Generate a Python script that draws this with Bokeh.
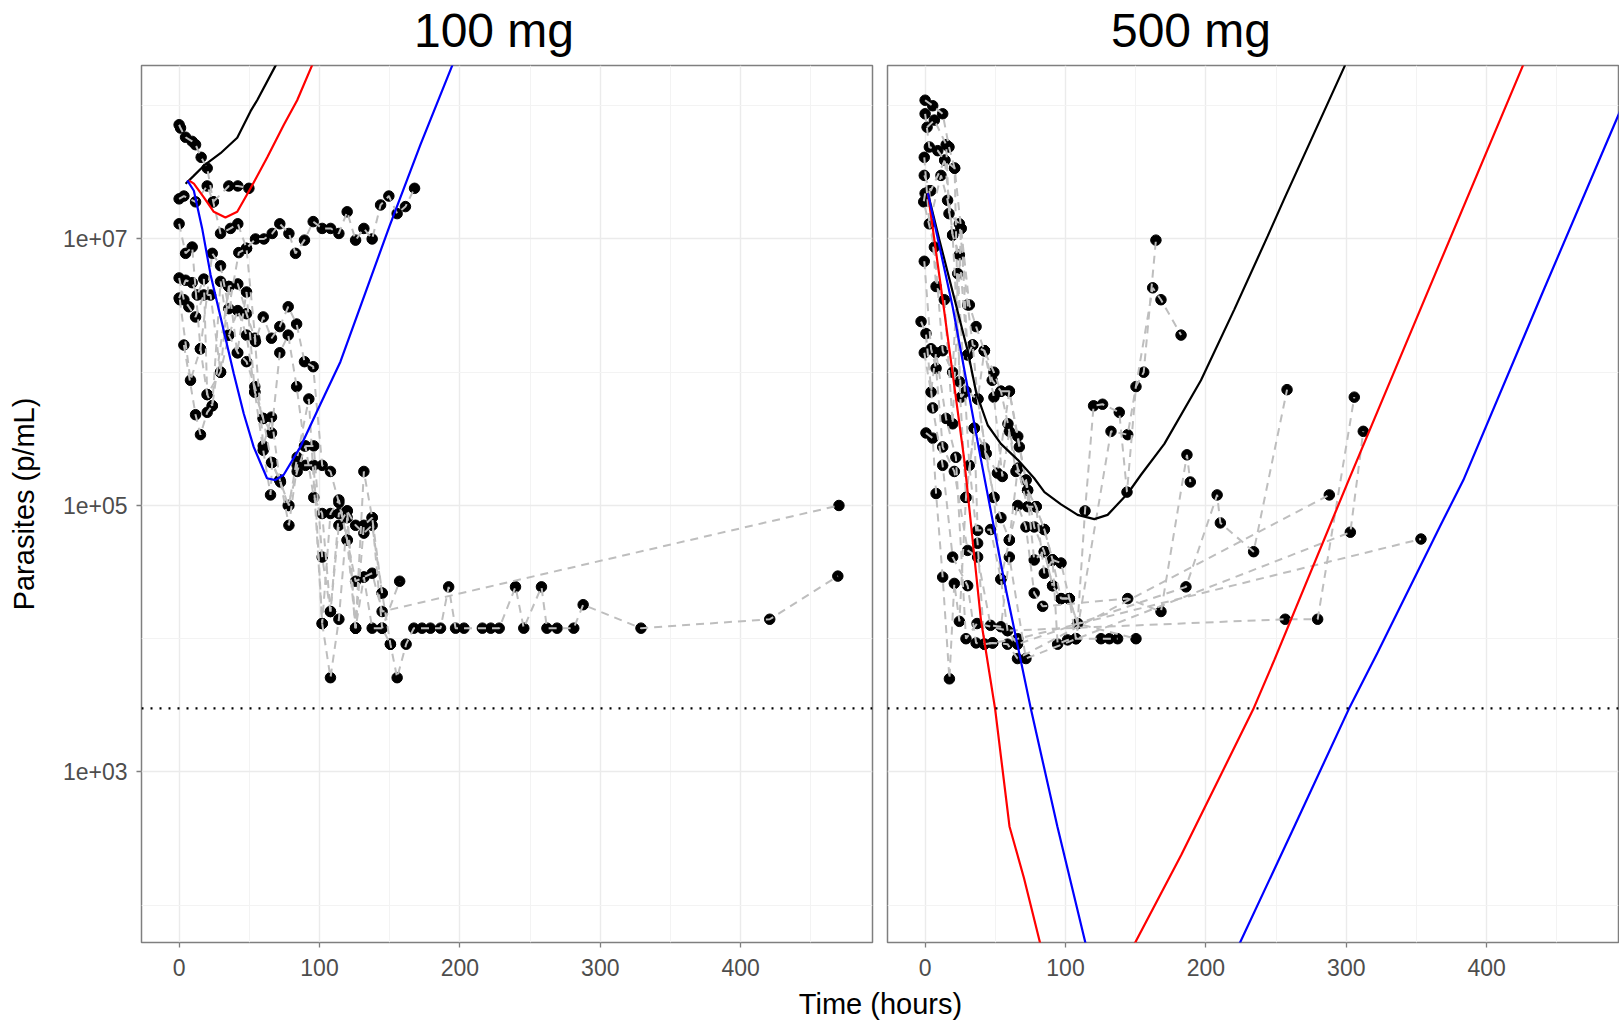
from bokeh.plotting import figure
from bokeh.models import Range1d, FixedTicker, Span, Label
from bokeh.layouts import row, column
from bokeh.embed import file_html
from bokeh.resources import INLINE

# ---------------- data ----------------
panel_titles = ["100 mg", "500 mg"]
x_ticks = [0, 100, 200, 300, 400]
x_minor = [50, 150, 250, 350, 450]
y_ticks = [1e3, 1e5, 1e7]
y_minor = [1e2, 1e4, 1e6, 1e8]
y_tick_labels = ["1e+03", "1e+05", "1e+07"]
lloq = 3000

# 100 mg observed (hours, parasites/mL), one pair per subject
a1_t = [0, 1, 4.6, 9.3, 11.7, 15.7, 20, 24.3, 29.5, 36.6, 41.8, 48, 54.4, 60.4, 66.3, 71.7, 78.2, 82.9, 89.3, 95.5, 101.9, 107.9, 113.8, 119.7, 125.7, 131.6, 137.5, 143.5, 149.4, 155.3, 161.2, 167.7]
a1_p = [7.2e7, 6.8e7, 5.8e7, 5.4e7, 5.1e7, 4.1e7, 3.4e7, 1.9e7, 1.1e7, 1.2e7, 1.3e7, 8.5e6, 1.0e7, 1.0e7, 1.1e7, 1.3e7, 1.1e7, 7.8e6, 9.8e6, 1.35e7, 1.2e7, 1.2e7, 1.1e7, 1.6e7, 9.8e6, 1.2e7, 1.0e7, 1.8e7, 2.1e7, 1.55e7, 1.75e7, 2.4e7]
a2_t = [0, 3.4, 11.7, 20, 24.3, 35.4, 41.8, 49.7]
a2_p = [2.0e7, 2.1e7, 1.9e7, 2.5e7, 1.9e7, 2.5e7, 2.5e7, 2.4e7]
a3_t = [0, 4.6, 9.3, 15.2, 23.6, 29.5, 35.4, 42.5, 48, 54.4, 59.9, 65.8, 71.7, 77.7, 83.7, 89.3, 95.5, 101.9, 107.8, 113.8, 119.7, 125.7, 131.6, 137.5, 144.6, 470]
a3_p = [1.3e7, 7.8e6, 8.7e6, 1.5e6, 7.8e6, 6.3e6, 3.0e6, 7.9e6, 8.5e6, 1.7e6, 2.6e6, 1.8e6, 2.2e6, 3.1e6, 2.3e6, 1.2e6, 1.1e6, 2.0e5, 1.8e5, 1.05e5, 5.5e4, 2.7e4, 2.9e4, 3.1e4, 1.6e4, 1.0e5]
a4_t = [0, 3.4, 6.9, 11.7, 17.6, 22.4, 29.5, 35.4, 41.4, 48, 53.9, 59.9, 65.8, 71.7, 77.7, 84.1, 90, 95.9, 101.9, 107.8, 113.8, 119.7, 125.7, 131.6, 137.5, 144.6, 150.5, 155.3, 161.7, 167.2, 173, 179, 186.2, 192, 196.9, 202.9, 216, 222, 228, 239.6, 245.5, 258.1, 262, 269.2, 281.1, 287.8, 329, 420.7, 469.2]
a4_p = [5.1e6, 3.5e6, 3.1e6, 2.6e6, 3.8e6, 3.8e6, 1.0e6, 4.4e6, 1.4e6, 4.0e6, 7.1e5, 4.5e5, 2.1e5, 1.55e5, 1.0e5, 1.8e5, 2.8e5, 1.15e5, 8.7e4, 1.6e4, 8.7e4, 9.1e4, 7.1e4, 6.2e4, 7.1e4, 2.2e4, 9.1e3, 5.1e3, 9.1e3, 1.2e4, 1.2e4, 1.2e4, 1.2e4, 2.45e4, 1.2e4, 1.2e4, 1.2e4, 1.2e4, 1.2e4, 2.45e4, 1.2e4, 2.45e4, 1.2e4, 1.2e4, 1.2e4, 1.8e4, 1.2e4, 1.4e4, 2.95e4]
a5_t = [0, 4.6, 9.3, 12.9, 17.6, 20, 23.6, 29.5, 35.4, 41.8, 48, 53.9, 59.9, 65.1, 66.3, 72.2, 78.2, 84.1, 90, 95.9, 101.9, 107.8, 113.8, 119.7, 125.7, 131.6, 137.5, 144.6, 157.1]
a5_p = [3.6e6, 4.9e6, 4.7e6, 3.8e6, 5.0e6, 6.8e5, 5.6e5, 4.8e6, 1.9e6, 2.9e6, 1.9e6, 7.1e5, 2.6e5, 1.2e5, 2.1e5, 1.5e5, 7.1e4, 2.0e5, 2.0e5, 2.0e5, 1.3e4, 5.1e3, 1.4e4, 8.1e4, 1.2e4, 7.1e4, 8.1e4, 1.2e4, 2.7e4]
a6_t = [0.5, 8.1, 15.2, 20, 29.5, 35.4, 41.8, 48, 53.9, 59.9, 65.8, 71.7, 77.7, 83.7, 89.3, 95.9, 101.9, 107.8, 113.8, 119.7, 125.7, 131.6, 137.5, 144.6]
a6_p = [3.5e6, 8.7e5, 1.5e6, 6.8e5, 1.0e6, 1.9e6, 1.4e6, 1.2e6, 7.8e5, 4.5e5, 3.5e5, 1.4e6, 1.9e6, 7.8e5, 2.8e5, 2.8e5, 4.1e4, 1.6e4, 7.1e4, 9.1e4, 1.2e4, 1.8e5, 8.1e4, 2.2e4]
a7_t = [3.4, 11.7, 15.2, 20, 23.6, 35.4, 41.8, 48, 53.9, 59.9, 65.8, 71.7, 78.2, 84.1, 92.4, 101.9, 107.8, 113.8, 119.7, 125.7, 131.6, 137.5, 144.6, 150.5]
a7_p = [1.6e6, 4.8e5, 3.4e5, 5.0e5, 5.6e5, 4.4e6, 4.6e6, 2.75e6, 1.8e6, 2.8e5, 4.6e5, 1.55e5, 1.0e5, 2.3e5, 6.3e5, 1.3e4, 8.7e4, 1.1e5, 5.5e4, 1.2e4, 2.9e4, 1.2e4, 1.2e4, 9.1e3]

# 500 mg observed
b1_t = [0, 5.4, 12.5, 17, 21, 25.6, 31.5, 36.3, 42.2, 49, 54, 60, 66, 73, 79, 84.9, 90.8, 96.8, 102.7, 108.6, 113.9, 120, 126.4, 138.3, 143.8, 150.2, 155.7, 164.4]
b1_p = [1.1e8, 1.0e8, 8.7e7, 4.9e7, 3.4e7, 1.2e7, 3.2e6, 2.2e6, 1.45e6, 1.0e6, 7.2e5, 7.2e5, 3.3e5, 1.3e5, 9.8e4, 6.6e4, 3.9e4, 3.7e4, 2.0e4, 1.3e4, 9.1e4, 5.6e5, 5.75e5, 5.0e5, 1.26e5, 7.8e5, 1.0e6, 9.8e6]
b2_t = [0, 3, 9, 14, 19.6, 24.4, 30.3, 33.9, 37.5, 42.2, 47.8, 54, 59, 64.7, 71.9, 77.7, 84.9, 90.8, 96.8, 102.7, 107.4, 132.4, 144.3, 162.1, 168, 182.3]
b2_p = [8.7e7, 4.9e7, 4.6e7, 3.9e7, 1.07e7, 7.6e6, 1.35e6, 1.6e6, 6.3e5, 1.45e6, 8.7e5, 7.2e5, 4.1e5, 1.8e5, 1.55e5, 6.9e4, 4.5e4, 2.5e4, 2.0e4, 2.0e4, 1.0e4, 3.6e5, 3.4e5, 4.3e6, 3.5e6, 1.9e6]
b3_t = [1.4, 6.6, 15, 17, 24.4, 30.3, 33.9, 42.2, 49, 55, 60, 66, 73, 79, 84.9, 90.8, 94.4, 101.5, 107.4, 125.3, 131.2, 137.1]
b3_p = [6.9e7, 7.8e7, 5.1e7, 1.55e7, 1.3e7, 3.2e6, 1.6e6, 1.45e6, 6.5e5, 1.65e5, 3.6e5, 1.9e5, 9.8e4, 9.8e4, 3.1e4, 3.9e4, 9.1e3, 9.8e3, 1.0e4, 1.0e4, 1.0e4, 1.0e4]
b4_t = [-0.6, 3, 11.3, 16, 19.6, 25.6, 29.1, 37.5, 43.4, 49, 54, 60, 66, 71.8, 77.7, 83.7, 144.3, 168, 186.5, 188.9]
b4_p = [4.1e7, 1.3e7, 3.0e7, 1.95e7, 1.07e7, 6.5e5, 7.2e5, 6.3e5, 2.45e5, 1.15e5, 8.1e4, 5.5e4, 1.0e5, 6.9e4, 2.2e4, 1.75e4, 2.0e4, 1.6e4, 2.4e5, 1.5e5]
b5_t = [-0.6, 4, 14, 21, 24.4, 29.1, 35, 37.4, 46.6, 54, 58.7, 65.8, 185.8, 208, 210.3, 234, 257.8]
b5_p = [3.0e7, 2.3e7, 3.9e7, 3.4e7, 8.5e5, 1.15e5, 3.8e5, 6.5e4, 6.6e4, 2.8e4, 1.15e4, 9.1e3, 2.45e4, 1.2e5, 7.4e4, 4.5e4, 7.4e5]
b6_t = [0, -1, 6.6, 12.5, 19.6, 23.2, 31.5, 37.4, 42.2, 48.1, 58.7, 65.8, 287.9]
b6_p = [2.2e7, 1.9e7, 8.7e6, 1.45e6, 1.0e6, 5.5e6, 2.0e5, 5.2e4, 9.1e3, 9.3e3, 9.1e3, 7.1e3, 1.2e5]
b7_t = [-0.6, 4.2, 7.8, 12.5, 20.8, 30.3, 37.4, 46.6, 54, 60, 71.8, 302.9, 312.1]
b7_p = [6.8e6, 1.5e6, 1.07e6, 2.75e5, 1.8e5, 4.6e4, 4.1e4, 1.26e4, 1.23e4, 4.1e4, 7.1e3, 6.3e4, 3.6e5]
b8_t = [-2.9, 0.6, 5.4, 12.5, 19.6, 30.3, 36.3, 42.2, 48.1, 66, 353.2]
b8_p = [2.4e6, 1.95e6, 5.4e5, 2.0e5, 4.1e4, 2.5e4, 9.3e3, 9.1e3, 9.3e3, 1.0e4, 5.6e4]
b9_t = [-0.6, 4.2, 7.8, 14.9, 21.9, 29.1, 37, 58.7, 256.5, 279.6, 305.7]
b9_p = [1.4e6, 7.1e5, 1.4e6, 4.5e5, 2.3e5, 1.0e4, 1.3e4, 1.15e4, 1.4e4, 1.4e4, 6.5e5]
b10_t = [0.6, 5.4, 7.8, 12.5, 17.3, 20.8, 24.4, 29.1, 35, 42.2, 49, 54, 60, 66, 73, 79, 84.9, 90.8, 96.8, 102.7, 108.6, 150.2]
b10_p = [3.5e5, 3.2e5, 1.23e5, 2.9e4, 5.0e3, 2.6e4, 1.35e4, 1.15e5, 3.8e5, 2.7e5, 1.15e5, 2.8e4, 5.5e4, 1.9e5, 1.3e5, 9.8e4, 6.6e4, 3.9e4, 2.0e4, 2.0e4, 1.3e4, 1.0e4]
b11_t = [3, 7.8, 13.7, 19.6, 25.6, 30.3, 37.5, 43.4, 51.5, 60, 67.1, 71.8, 77.7, 84.9, 90.8]
b11_p = [2.3e7, 4.4e6, 3.5e6, 4.1e5, 1.2e7, 1.35e6, 6.3e5, 2.45e5, 1.75e5, 7.2e5, 2.75e5, 1.55e5, 3.9e4, 4.5e4, 2.5e4]

# model predictions (hours, parasites/mL)
m100_black_t = [4.6, 10, 17.6, 29.5, 41.4, 50.9, 55.6, 68.7, 80]
m100_black_p = [2.6e7, 2.95e7, 3.55e7, 4.4e7, 5.75e7, 9.1e7, 1.1e8, 2.0e8, 3.4e8]
m100_red_t = [6.9, 10.5, 17.6, 24.7, 33, 41.4, 50.9, 62.8, 74.6, 84.1, 94.6, 105]
m100_red_p = [2.75e7, 2.6e7, 2.05e7, 1.6e7, 1.45e7, 1.6e7, 2.4e7, 4.1e7, 7.2e7, 1.1e8, 2.0e8, 3.5e8]
m100_blue_t = [5.8, 10.5, 16.4, 22.4, 31.8, 38.9, 46, 53.1, 62.6, 68.5, 74.5, 86.4, 100.6, 114.9, 130, 150, 171.9, 194.5, 210]
m100_blue_p = [2.75e7, 2.3e7, 1.2e7, 5.4e6, 2.05e6, 9.8e5, 4.9e5, 2.75e5, 1.6e5, 1.55e5, 1.7e5, 2.75e5, 5.75e5, 1.2e6, 3.3e6, 1.26e7, 5.1e7, 2.0e8, 5.2e8]
m500_black_t = [2, 10, 22, 30.3, 36.3, 44.6, 54, 66, 77.7, 85, 96.8, 108.6, 120.5, 130, 144.3, 153.8, 170.4, 196.5, 220.2, 244, 255.8, 299, 310]
m500_black_p = [2.2e7, 1.0e7, 3.2e6, 1.45e6, 7.1e5, 4.0e5, 2.9e5, 2.2e5, 1.6e5, 1.26e5, 1.02e5, 8.5e4, 7.9e4, 8.5e4, 1.23e5, 1.7e5, 2.9e5, 8.7e5, 2.95e6, 1.05e7, 2.0e7, 2.0e8, 3.5e8]
m500_red_t = [2, 12.5, 27.9, 39.7, 49.9, 60.1, 70.4, 82.3, 95, 115, 140, 148.6, 182.6, 233.7, 248.7, 301.7, 367.4, 425.8, 440]
m500_red_p = [2.2e7, 3.5e6, 2.2e5, 1.4e4, 2.95e3, 3.9e2, 1.6e2, 50, 16, 8, 35, 50, 240, 2.95e3, 6.9e3, 1.55e5, 6.9e6, 2.0e8, 4.5e8]
m500_blue_t = [2, 19.6, 39.8, 57, 75.4, 94.2, 114.6, 125, 170, 215, 223.4, 262, 301.7, 322.4, 367.4, 383.4, 440, 495, 505]
m500_blue_p = [2.2e7, 3.1e6, 2.2e5, 2.5e4, 2.95e3, 3.9e2, 50, 20, 8, 32, 50, 3.7e2, 2.95e3, 7.9e3, 7.2e4, 1.55e5, 4.0e6, 9.1e7, 1.6e8]

subjects_100 = [(a1_t, a1_p), (a2_t, a2_p), (a3_t, a3_p), (a4_t, a4_p), (a5_t, a5_p), (a6_t, a6_p), (a7_t, a7_p)]
subjects_500 = [(b1_t, b1_p), (b2_t, b2_p), (b3_t, b3_p), (b4_t, b4_p), (b5_t, b5_p), (b6_t, b6_p),
                (b7_t, b7_p), (b8_t, b8_p), (b9_t, b9_p), (b10_t, b10_p), (b11_t, b11_p)]
curves_100 = [(m100_black_t, m100_black_p, "black"), (m100_red_t, m100_red_p, "#FF0000"), (m100_blue_t, m100_blue_p, "#0000FF")]
curves_500 = [(m500_black_t, m500_black_p, "black"), (m500_red_t, m500_red_p, "#FF0000"), (m500_blue_t, m500_blue_p, "#0000FF")]

# ---------------- styling ----------------
FONT = "Liberation Sans"
X_RANGE = (-26.8, 493.9)
Y_RANGE = (52.5, 2.004e8)
FRAME_W, FRAME_H = 731, 877
BORDER = "#7F7F7F"
TOP_STRIP_H = 63
LEFT_BORDER = 141


def make_panel(subjects, curves, left, right, show_y):
    p = figure(output_backend="svg", toolbar_location=None, y_axis_type="log",
               x_range=Range1d(*X_RANGE), y_range=Range1d(*Y_RANGE),
               frame_width=FRAME_W, frame_height=FRAME_H,
               min_border_left=left, min_border_right=right,
               min_border_top=2, min_border_bottom=44)
    p.background_fill_color = "white"
    p.border_fill_color = "white"
    p.outline_line_color = BORDER
    p.outline_line_width = 1.5

    xt = FixedTicker(ticks=x_ticks, minor_ticks=x_minor)
    yt = FixedTicker(ticks=y_ticks, minor_ticks=y_minor)
    p.xaxis.ticker = xt
    p.yaxis.ticker = yt
    p.xgrid.ticker = xt
    p.ygrid.ticker = yt
    for g in (p.xgrid, p.ygrid):
        g.grid_line_color = "#EBEBEB"
        g.grid_line_width = 1.4
        g.minor_grid_line_color = "#F3F3F3"
        g.minor_grid_line_width = 1.0

    for ax in (p.xaxis, p.yaxis):
        ax.axis_line_color = None
        ax.major_tick_line_color = "#7F7F7F"
        ax.major_tick_line_width = 1.3
        ax.major_tick_out = 5
        ax.major_tick_in = 0
        ax.minor_tick_line_color = None
        ax.major_label_text_font = FONT
        ax.major_label_text_font_size = "23px"
        ax.major_label_text_color = "#4D4D4D"
    p.xaxis.major_label_standoff = 11
    p.yaxis.major_label_standoff = 9
    p.yaxis.major_label_overrides = {v: s for v, s in zip(y_ticks, y_tick_labels)}
    if show_y:
        p.yaxis.axis_label = "Parasites (p/mL)"
        p.yaxis.axis_label_text_font = FONT
        p.yaxis.axis_label_text_font_size = "29px"
        p.yaxis.axis_label_text_font_style = "normal"
        p.yaxis.axis_label_text_color = "black"
        p.yaxis.axis_label_standoff = 20
    else:
        p.yaxis.visible = False

    # observed points, then the dashed subject lines over them
    pts_t, pts_p, xs, ys = [], [], [], []
    for t, v in subjects:
        pts_t.extend(t)
        pts_p.extend(v)
        xs.append(t)
        ys.append(v)
    p.scatter(x=pts_t, y=pts_p, size=10.5, marker="circle", fill_color="black", line_color="black")
    p.multi_line(xs=xs, ys=ys, line_color="#BEBEBE", line_width=2, line_dash="8 6")

    for t, v, c in curves:
        p.line(x=t, y=v, line_color=c, line_width=2.2)

    p.add_layout(Span(location=lloq, dimension="width", line_color="black",
                      line_dash="2 7", line_width=2.2))
    return p


def text_strip(height):
    s = figure(output_backend="svg", toolbar_location=None,
               x_range=Range1d(LEFT_BORDER, 1619), y_range=Range1d(0, height),
               frame_width=1619 - LEFT_BORDER, frame_height=height,
               min_border_left=LEFT_BORDER, min_border_right=0,
               min_border_top=0, min_border_bottom=0)
    s.axis.visible = False
    s.grid.visible = False
    s.outline_line_color = None
    return s


p1 = make_panel(subjects_100, curves_100, LEFT_BORDER, 8, True)
p2 = make_panel(subjects_500, curves_500, 7, 1, False)

# strip with the two panel titles
p0 = text_strip(TOP_STRIP_H)
for txt, cx in zip(panel_titles, [493.5, 1190.5]):
    p0.add_layout(Label(x=cx, y=TOP_STRIP_H - 29.5, text=txt, text_font=FONT, text_font_size="48px",
                        text_color="black", text_align="center", text_baseline="middle"))

# strip with the shared x-axis title
p3 = text_strip(34)
p3.add_layout(Label(x=880, y=17, text="Time (hours)", text_font=FONT, text_font_size="29px",
                    text_color="black", text_align="center", text_baseline="middle"))

layout = column(p0, row(p1, p2), p3)
open("out.html", "w").write(file_html(layout, INLINE))
